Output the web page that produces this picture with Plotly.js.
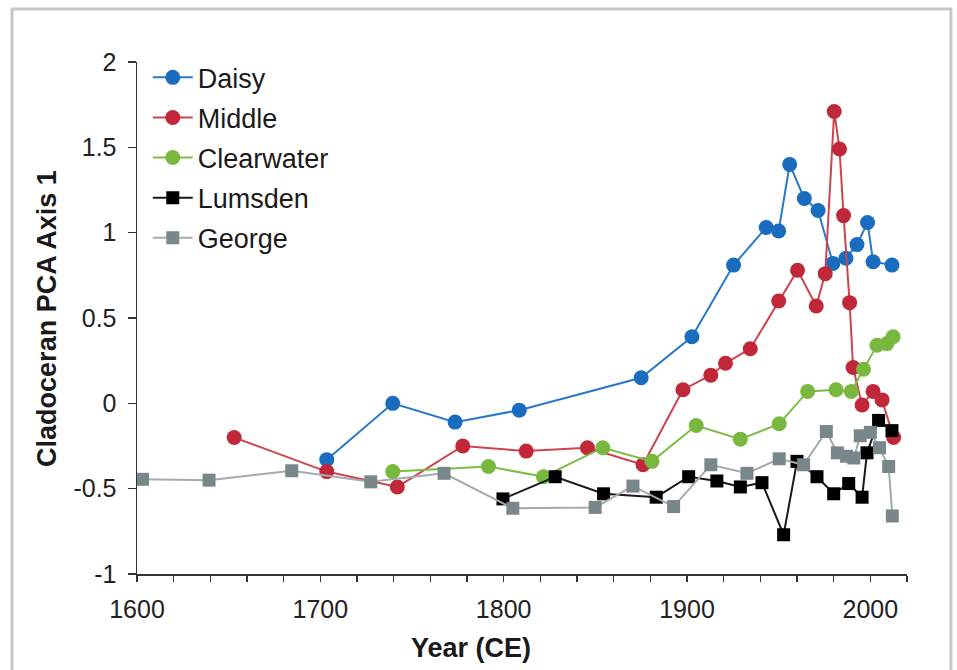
<!DOCTYPE html>
<html>
<head>
<meta charset="utf-8">
<script src="https://cdn.plot.ly/plotly-3.0.1.min.js"></script>
<style>
  html, body { margin: 0; padding: 0; background: #fff; }
  #chart { width: 957px; height: 670px; }
</style>
</head>
<body>
<div id="chart"></div>
<script>
// Cladoceran PCA axis-1 scores through time for five lakes
const daisyYears = [1703.5, 1739.5, 1773.5, 1808.5, 1875, 1902.7, 1925.4, 1943.2, 1950, 1956, 1964, 1971.5, 1979.6, 1986.7, 1992.7, 1998.5, 2001.5, 2011.8];
const daisyScores = [-0.33, 0.00, -0.11, -0.04, 0.15, 0.39, 0.81, 1.03, 1.01, 1.40, 1.20, 1.13, 0.82, 0.85, 0.93, 1.06, 0.83, 0.81];

const middleYears = [1653, 1703.5, 1742, 1777.7, 1812.3, 1845.7, 1876, 1897.8, 1913, 1921, 1934.5, 1950, 1960.3, 1970.5, 1975.4, 1980.3, 1983.2, 1985.4, 1988.7, 1990.6, 1995.5, 2001.5, 2006.4, 2012.7];
const middleScores = [-0.20, -0.40, -0.49, -0.25, -0.28, -0.26, -0.36, 0.08, 0.165, 0.235, 0.32, 0.60, 0.78, 0.57, 0.76, 1.71, 1.49, 1.10, 0.59, 0.21, -0.01, 0.07, 0.02, -0.20];

const clearwaterYears = [1739.5, 1791.7, 1821.7, 1854.1, 1880.9, 1905, 1929.1, 1950.3, 1965.8, 1981.3, 1989.6, 1996.3, 2003.6, 2009.1, 2012.4];
const clearwaterScores = [-0.40, -0.37, -0.43, -0.26, -0.34, -0.13, -0.21, -0.12, 0.07, 0.08, 0.07, 0.20, 0.34, 0.35, 0.39];

const lumsdenYears = [1799.6, 1828.1, 1854.5, 1883.2, 1900.9, 1916.3, 1929.1, 1940.9, 1952.7, 1960, 1970.9, 1980, 1988.2, 1995.5, 1998.2, 2004.5, 2011.8];
const lumsdenScores = [-0.56, -0.43, -0.53, -0.55, -0.43, -0.455, -0.49, -0.465, -0.77, -0.34, -0.43, -0.53, -0.47, -0.55, -0.29, -0.10, -0.16];

const georgeYears = [1603, 1639.3, 1684.4, 1727.5, 1767.5, 1805, 1849.9, 1870.5, 1892.7, 1913, 1932.7, 1950.3, 1963.6, 1976, 1982, 1987, 1991, 1994.5, 2000, 2005, 2010, 2012];
const georgeScores = [-0.445, -0.45, -0.395, -0.46, -0.41, -0.615, -0.61, -0.485, -0.605, -0.36, -0.41, -0.325, -0.36, -0.165, -0.29, -0.31, -0.32, -0.19, -0.17, -0.26, -0.37, -0.66];

const yTickVals = [-1, -0.5, 0, 0.5, 1, 1.5, 2];
const yTickText = ['-1', '-0.5', '0', '0.5', '1', '1.5', '2'];
const xTickVals = [1600, 1700, 1800, 1900, 2000];
const xTickText = ['1600', '1700', '1800', '1900', '2000'];

const FONT = '"Liberation Sans", Arial, Helvetica, sans-serif';

function series(name, x, y, lineColor, markerColor, symbol, size) {
  return {
    type: 'scatter', mode: 'lines+markers', name: name, legendgroup: name,
    x: x, y: y,
    line: { color: lineColor, width: 2 },
    marker: { color: markerColor, symbol: symbol, size: size, line: { width: 0 } },
    cliponaxis: false
  };
}

const traces = [
  series('Daisy', daisyYears, daisyScores, '#2a78c8', '#1a6cbf', 'circle', 15),
  series('Middle', middleYears, middleScores, '#cc4450', '#c0283a', 'circle', 15),
  series('Clearwater', clearwaterYears, clearwaterScores, '#7cbc45', '#79b83f', 'circle', 15),
  series('Lumsden', lumsdenYears, lumsdenScores, '#1a1a1a', '#000000', 'square', 13),
  series('George', georgeYears, georgeScores, '#a3abad', '#7a878a', 'square', 13)
];

const layout = {
  width: 957, height: 670,
  margin: { l: 137, r: 50, t: 62, b: 96 },
  paper_bgcolor: '#ffffff', plot_bgcolor: '#ffffff',
  font: { family: FONT, size: 25, color: '#222222' },
  showlegend: true,
  legend: {
    x: 0.014, y: 1.017, xanchor: 'left', yanchor: 'top',
    traceorder: 'grouped', tracegroupgap: 2, itemwidth: 40,
    bgcolor: 'rgba(0,0,0,0)', borderwidth: 0,
    font: { family: FONT, size: 27, color: '#1a1a1a' }
  },
  xaxis: {
    range: [1600, 2020], showgrid: false, zeroline: false,
    showline: true, linecolor: '#333333', linewidth: 1.5,
    tickmode: 'array', tickvals: xTickVals, ticktext: xTickText,
    ticks: 'outside', ticklen: 6, tickwidth: 1.5, tickcolor: '#333333',
    ticklabelstandoff: 6,
    minor: { dtick: 20, tick0: 1600, ticks: 'outside', ticklen: 6, tickwidth: 1.5, tickcolor: '#333333', showgrid: false },
    tickfont: { family: FONT, size: 25, color: '#222222' },
    fixedrange: true
  },
  yaxis: {
    range: [-1, 2], showgrid: false, zeroline: false,
    showline: true, linecolor: '#333333', linewidth: 1.5,
    tickmode: 'array', tickvals: yTickVals, ticktext: yTickText,
    ticks: 'outside', ticklen: 8, tickwidth: 1.5, tickcolor: '#333333',
    ticklabelstandoff: 6,
    tickfont: { family: FONT, size: 25, color: '#222222' },
    fixedrange: true
  },
  annotations: [
    { text: '<b>Year (CE)</b>', xref: 'paper', yref: 'paper', x: 0.434, y: -0.145,
      xanchor: 'center', yanchor: 'middle', showarrow: false,
      font: { family: FONT, size: 27, color: '#1a1a1a' } },
    { text: '<b>Cladoceran PCA Axis 1</b>', xref: 'paper', yref: 'paper', x: -0.117, y: 0.5,
      xanchor: 'center', yanchor: 'middle', textangle: -90, showarrow: false,
      font: { family: FONT, size: 27, color: '#1a1a1a' } }
  ],
  shapes: [
    { type: 'rect', xref: 'paper', yref: 'paper', x0: -0.1623, x1: 1.057, y0: -0.2, y1: 1.1035,
      line: { color: '#c4c8ca', width: 3 }, fillcolor: 'rgba(0,0,0,0)', layer: 'below' }
  ]
};

Plotly.newPlot('chart', traces, layout, { staticPlot: true, displayModeBar: false });
</script>
</body>
</html>
